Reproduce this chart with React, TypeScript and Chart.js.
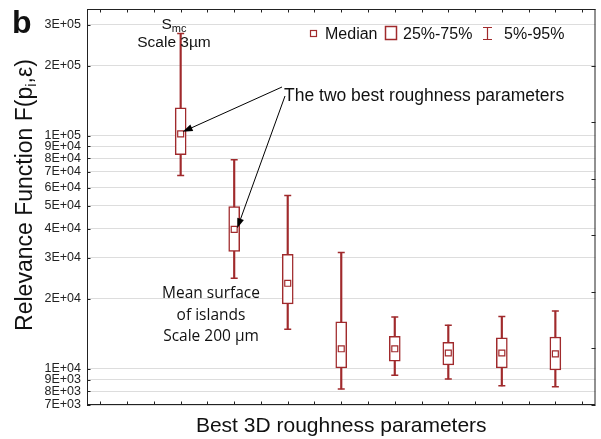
import React, { useEffect, useRef } from 'react';
import { Chart, registerables } from 'chart.js';

Chart.register(...registerables);

// ---- data ----
const categories = ['P1', 'P2', 'P3', 'P4', 'P5', 'P6', 'P7', 'P8'];
const positions = [1, 2, 3, 4, 5, 6, 7, 8];
const whiskerLow = [67500, 24500, 14800, 8200, 9400, 9060, 8460, 8380];
const q1 = [83000, 31900, 19000, 10100, 10800, 10400, 10100, 9900];
const median = [102000, 39700, 23300, 12200, 12200, 11700, 11700, 11600];
const q3 = [132000, 49700, 31000, 15900, 13800, 13000, 13600, 13700];
const whiskerHigh = [275000, 79000, 55400, 31600, 16700, 15400, 16800, 17700];

const yTickValues = [7000, 8000, 9000, 10000, 20000, 30000, 40000, 50000, 60000, 70000, 80000, 90000, 100000, 200000, 300000];
const yTickLabels = ['7E+03', '8E+03', '9E+03', '1E+04', '2E+04', '3E+04', '4E+04', '5E+04', '6E+04', '7E+04', '8E+04', '9E+04', '1E+05', '2E+05', '3E+05'];
const xTickValues = [-0.5, 0, 0.5, 1, 1.5, 2, 2.5, 3, 3.5, 4, 4.5, 5, 5.5, 6, 6.5, 7, 7.5, 8, 8.5];
const rightTickValues = [0, 1, 2, 3, 4, 5, 6, 7];

const legendLabels = ['Median', '25%-75%', '5%-95%'];
const xTitle = 'Best 3D roughness parameters';
const annotationArrow = 'The two best roughness parameters';
const annotationIslands = ['Mean surface', 'of islands', 'Scale 200 µm'];

const RED = '#a02a2c';
const AXIS = '#222';
const TEXT = '#111';
const FONT = '"Liberation Sans", Arial, Helvetica, sans-serif';

function drawArrow(ctx: CanvasRenderingContext2D, x1: number, y1: number, x2: number, y2: number) {
  const ang = Math.atan2(y2 - y1, x2 - x1);
  const L = 10, W = 3.5;
  const c = Math.cos(ang), s = Math.sin(ang);
  ctx.beginPath();
  ctx.moveTo(x1, y1);
  ctx.lineTo(x2 - L * 0.7 * c, y2 - L * 0.7 * s);
  ctx.stroke();
  ctx.beginPath();
  ctx.moveTo(x2, y2);
  ctx.lineTo(x2 - L * c + W * s, y2 - L * s - W * c);
  ctx.lineTo(x2 - L * c - W * s, y2 - L * s + W * c);
  ctx.closePath();
  ctx.fill();
}

const overlayPlugin = {
  id: 'overlay',
  afterDatasetsDraw(chart: any) {
    const { ctx, chartArea: a, scales } = chart;
    const xs = scales.x, ys = scales.y, y2 = scales.y2;
    ctx.save();
    // frame
    ctx.strokeStyle = AXIS;
    ctx.lineWidth = 1;
    ctx.strokeRect(a.left + 0.5, a.top + 0.5, a.right - a.left - 1, a.bottom - a.top - 1);
    // inward ticks
    ctx.beginPath();
    for (const v of xTickValues) {
      const px = Math.round(xs.getPixelForValue(v)) + 0.5;
      ctx.moveTo(px, a.bottom);
      ctx.lineTo(px, a.bottom - 3.5);
      ctx.moveTo(px, a.top);
      ctx.lineTo(px, a.top + 3.5);
    }
    for (const v of yTickValues) {
      const py = Math.round(ys.getPixelForValue(v)) + 0.5;
      ctx.moveTo(a.left, py);
      ctx.lineTo(a.left + 3.5, py);
    }
    for (const v of rightTickValues) {
      const py = Math.round(y2.getPixelForValue(v)) + 0.5;
      ctx.moveTo(a.right, py);
      ctx.lineTo(a.right - 4, py);
    }
    ctx.stroke();
    ctx.restore();
  },
  afterDraw(chart: any) {
    const { ctx, chartArea: a, scales } = chart;
    const xs = scales.x, ys = scales.y;
    ctx.save();
    ctx.fillStyle = TEXT;
    ctx.textBaseline = 'alphabetic';

    // panel letter
    ctx.font = `bold 32px ${FONT}`;
    ctx.textAlign = 'left';
    ctx.fillText('b', 12, 33);

    // legend
    ctx.strokeStyle = RED;
    ctx.lineWidth = 1.2;
    ctx.strokeRect(310.5, 30.5, 6, 6);
    ctx.lineWidth = 1.5;
    ctx.strokeRect(385.5, 26.5, 11, 13);
    ctx.lineWidth = 1.2;
    ctx.beginPath();
    ctx.moveTo(487.5, 27); ctx.lineTo(487.5, 40);
    ctx.moveTo(483, 27.5); ctx.lineTo(492, 27.5);
    ctx.moveTo(483, 39.5); ctx.lineTo(492, 39.5);
    ctx.stroke();
    ctx.font = `16px ${FONT}`;
    ctx.fillText(legendLabels[0], 325, 38.5);
    ctx.fillText(legendLabels[1], 403, 38.5);
    ctx.fillText(legendLabels[2], 504, 38.5);

    // S_mc annotation
    ctx.font = `15.5px ${FONT}`;
    const sW = ctx.measureText('S').width;
    ctx.font = `11px ${FONT}`;
    const mcW = ctx.measureText('mc').width;
    const sx = 174 - (sW + mcW) / 2;
    ctx.font = `15.5px ${FONT}`;
    ctx.fillText('S', sx, 29);
    ctx.font = `11px ${FONT}`;
    ctx.fillText('mc', sx + sW, 32);
    ctx.font = `15.5px ${FONT}`;
    ctx.textAlign = 'center';
    ctx.fillText('Scale 3µm', 174, 47);

    // arrows annotation
    ctx.textAlign = 'left';
    ctx.font = `17.5px ${FONT}`;
    ctx.fillText(annotationArrow, 284, 100.5);
    ctx.strokeStyle = '#000';
    ctx.fillStyle = '#000';
    ctx.lineWidth = 1;
    const t1x = xs.getPixelForValue(positions[0]) + 2;
    const t1y = ys.getPixelForValue(median[0]) - 2;
    const t2x = xs.getPixelForValue(positions[1]) + 3;
    const t2y = ys.getPixelForValue(median[1]) - 1;
    drawArrow(ctx, 282, 87, t1x, t1y);
    drawArrow(ctx, 285, 96, t2x, t2y);

    // islands annotation
    ctx.fillStyle = TEXT;
    ctx.textAlign = 'center';
    ctx.font = `15.5px "Open Sans", ${FONT}`;
    annotationIslands.forEach((line, i) => ctx.fillText(line, 211, 298 + i * 21.5));

    // x title
    ctx.font = `21px ${FONT}`;
    ctx.fillText(xTitle, (a.left + a.right) / 2, 432);

    // y title with subscript
    ctx.save();
    ctx.translate(32, 195);
    ctx.rotate(-Math.PI / 2);
    ctx.textAlign = 'left';
    const big = `23px ${FONT}`;
    const small = `15px ${FONT}`;
    const parts: [string, string, number][] = [
      ['Relevance Function F(p', big, 0],
      ['i', small, 4],
      [',ε)', big, 0],
    ];
    let total = 0;
    for (const [t, f] of parts) { ctx.font = f; total += ctx.measureText(t).width; }
    let cx = -total / 2;
    for (const [t, f, dy] of parts) {
      ctx.font = f;
      ctx.fillText(t, cx, dy);
      cx += ctx.measureText(t).width;
    }
    ctx.restore();

    ctx.restore();
  },
};

const zeroPad = (s: any) => {
  s.paddingTop = 0;
  s.paddingBottom = 0;
  s.paddingLeft = 0;
  s.paddingRight = 0;
};

export default function App() {
  const ref = useRef<HTMLCanvasElement | null>(null);
  useEffect(() => {
    if (!ref.current) return;
    const chart = new Chart(ref.current, {
      type: 'bar',
      data: {
        labels: categories,
        datasets: [
          {
            type: 'bar',
            label: 'whisker',
            data: positions.map((x, i) => ({ x, y: [whiskerLow[i], whiskerHigh[i]] })) as any,
            backgroundColor: RED,
            borderWidth: 0,
            barThickness: 1.5,
            grouped: false,
            order: 4,
          } as any,
          {
            type: 'scatter',
            label: 'caps',
            data: [
              ...positions.map((x, i) => ({ x, y: whiskerLow[i] })),
              ...positions.map((x, i) => ({ x, y: whiskerHigh[i] })),
            ],
            pointStyle: 'line',
            pointRadius: 3.5,
            borderColor: RED,
            borderWidth: 1.5,
            order: 3,
          } as any,
          {
            type: 'bar',
            label: 'box',
            data: positions.map((x, i) => ({ x, y: [q1[i], q3[i]] })) as any,
            backgroundColor: '#ffffff',
            borderColor: RED,
            borderWidth: 1.5,
            borderSkipped: false,
            barThickness: 11,
            grouped: false,
            order: 2,
          } as any,
          {
            type: 'scatter',
            label: 'median',
            data: positions.map((x, i) => ({ x, y: median[i] })),
            pointStyle: 'rect',
            pointRadius: 4.2,
            backgroundColor: '#ffffff',
            borderColor: RED,
            borderWidth: 1.2,
            order: 1,
          } as any,
        ],
      },
      options: {
        animation: false,
        responsive: false,
        devicePixelRatio: 1,
        layout: { padding: { top: 9, left: 0, right: 0, bottom: 0 } },
        plugins: { legend: { display: false }, tooltip: { enabled: false } },
        scales: {
          x: {
            type: 'linear',
            min: -0.75,
            max: 8.75,
            offset: false,
            grid: { display: false },
            border: { display: false },
            ticks: { display: false },
            afterFit: (s: any) => { s.height = 34; zeroPad(s); },
          },
          y: {
            type: 'logarithmic',
            position: 'left',
            min: 7000,
            max: 350000,
            afterBuildTicks: (s: any) => { s.ticks = yTickValues.map((v) => ({ value: v })); },
            ticks: {
              autoSkip: false,
              padding: 6,
              color: '#222',
              font: { family: FONT, size: 12.5 },
              callback: (_v: any, i: number) => yTickLabels[i],
            },
            grid: { color: '#dddddd', lineWidth: 1, drawTicks: false },
            border: { display: false },
            afterFit: (s: any) => { s.width = 87; zeroPad(s); },
          },
          y2: {
            type: 'linear',
            position: 'right',
            min: 0,
            max: 7,
            ticks: { display: false, stepSize: 1 },
            grid: { display: false },
            border: { display: false },
            afterFit: (s: any) => { s.width = 4; zeroPad(s); },
          },
        },
      } as any,
      plugins: [overlayPlugin],
    });
    return () => chart.destroy();
  }, []);
  return (
    <div style={{ position: 'fixed', left: 0, top: 0, width: 601, height: 439, background: '#fff' }}>
      <canvas ref={ref} width={601} height={439} style={{ display: 'block', width: 601, height: 439 }} />
    </div>
  );
}
